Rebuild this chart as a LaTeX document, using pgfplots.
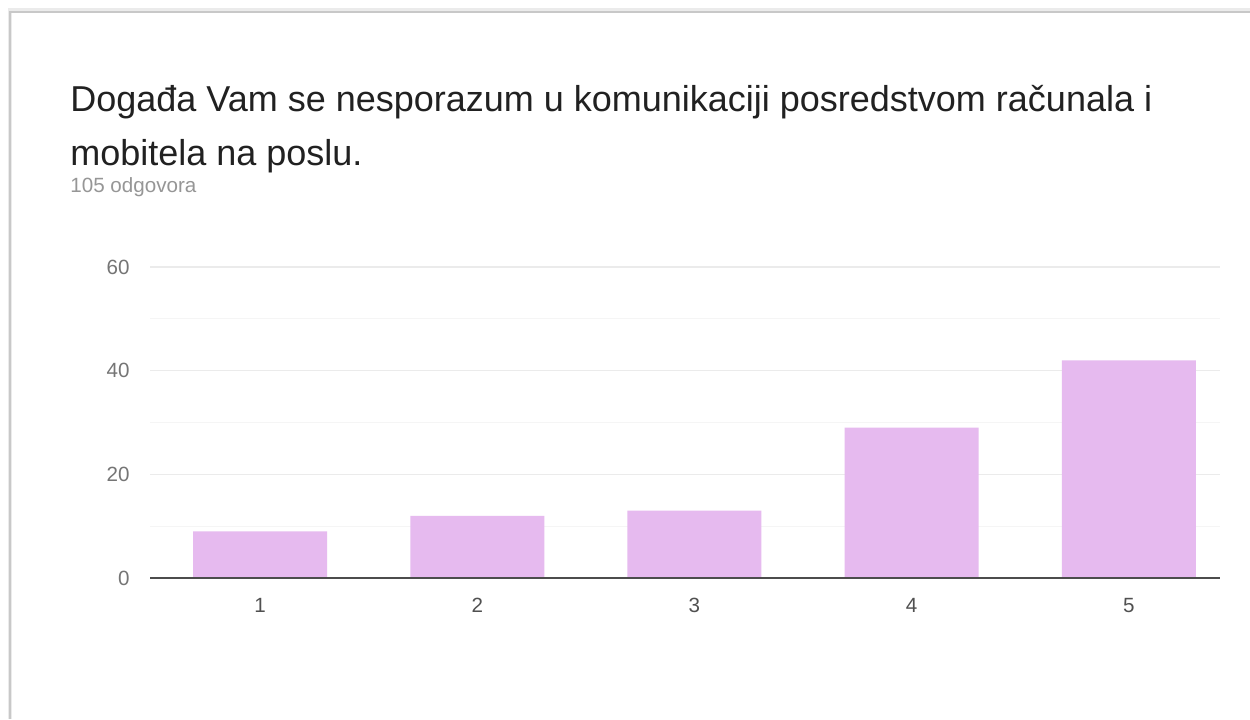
\documentclass[border=0pt]{standalone}
\usepackage{pgfplots}
\pgfplotsset{compat=1.18}
\usepackage{fontspec}
\setmainfont{Liberation Sans}
\definecolor{barc}{RGB}{230,186,239}
\definecolor{titlec}{RGB}{33,33,33}
\definecolor{subc}{RGB}{150,150,150}
\definecolor{ylab}{RGB}{117,117,117}
\definecolor{xlab}{RGB}{80,80,80}
\definecolor{gridmaj}{RGB}{235,235,235}
\definecolor{gridmin}{RGB}{245,245,245}
\definecolor{framec}{RGB}{200,200,200}
\begin{document}
\begin{tikzpicture}
\path[use as bounding box, fill=white] (0,0) rectangle (625pt,359.5pt);
% card frame
\fill[black!8] (4pt,0pt) rectangle (6pt,354.5pt);
\fill[black!8] (4pt,353.5pt) rectangle (625pt,355.5pt);
\draw[framec, line width=1pt] (5pt,0pt) -- (5pt,353.5pt) -- (625pt,353.5pt);
% titles
\node[anchor=base west, inner sep=0pt, text=titlec, font=\fontsize{18}{21}\selectfont] at (35pt,303.5pt) {Događa Vam se nesporazum u komunikaciji posredstvom računala i};
\node[anchor=base west, inner sep=0pt, text=titlec, font=\fontsize{18}{21}\selectfont] at (35pt,276.5pt) {mobitela na poslu.};
\node[anchor=base west, inner sep=0pt, text=subc, font=\fontsize{10.3}{12}\selectfont] at (35pt,263pt) {105 odgovora};
\begin{axis}[
  at={(75pt,70.5pt)}, anchor=south west,
  scale only axis, width=535pt, height=155.5pt,
  xmin=0.493, xmax=5.42, ymin=0, ymax=60,
  axis line style={draw=none},
  ybar, bar width=0.617,
  xtick={1,2,3,4,5}, ytick={0,20,40,60}, minor ytick={10,30,50},
  major tick length=0pt, minor tick length=0pt,
  ymajorgrids, yminorgrids,
  major grid style={gridmaj, line width=0.6pt},
  minor grid style={gridmin, line width=0.6pt},
  yticklabel style={inner sep=0pt, xshift=-10pt, text=ylab, font=\fontsize{10.3}{12}\selectfont},
  xticklabel style={inner sep=0pt, yshift=-10pt, text=xlab, font=\fontsize{10.3}{12}\selectfont},
  /pgf/number format/assume math mode=true,
  clip=false,
]
\addplot[fill=barc, draw=none] coordinates {(1,9) (2,12) (3,13) (4,29) (5,42)};
\draw[black!70, line width=1pt] (axis cs:0.493,0) -- (axis cs:5.42,0);
\end{axis}
\end{tikzpicture}
\end{document}
